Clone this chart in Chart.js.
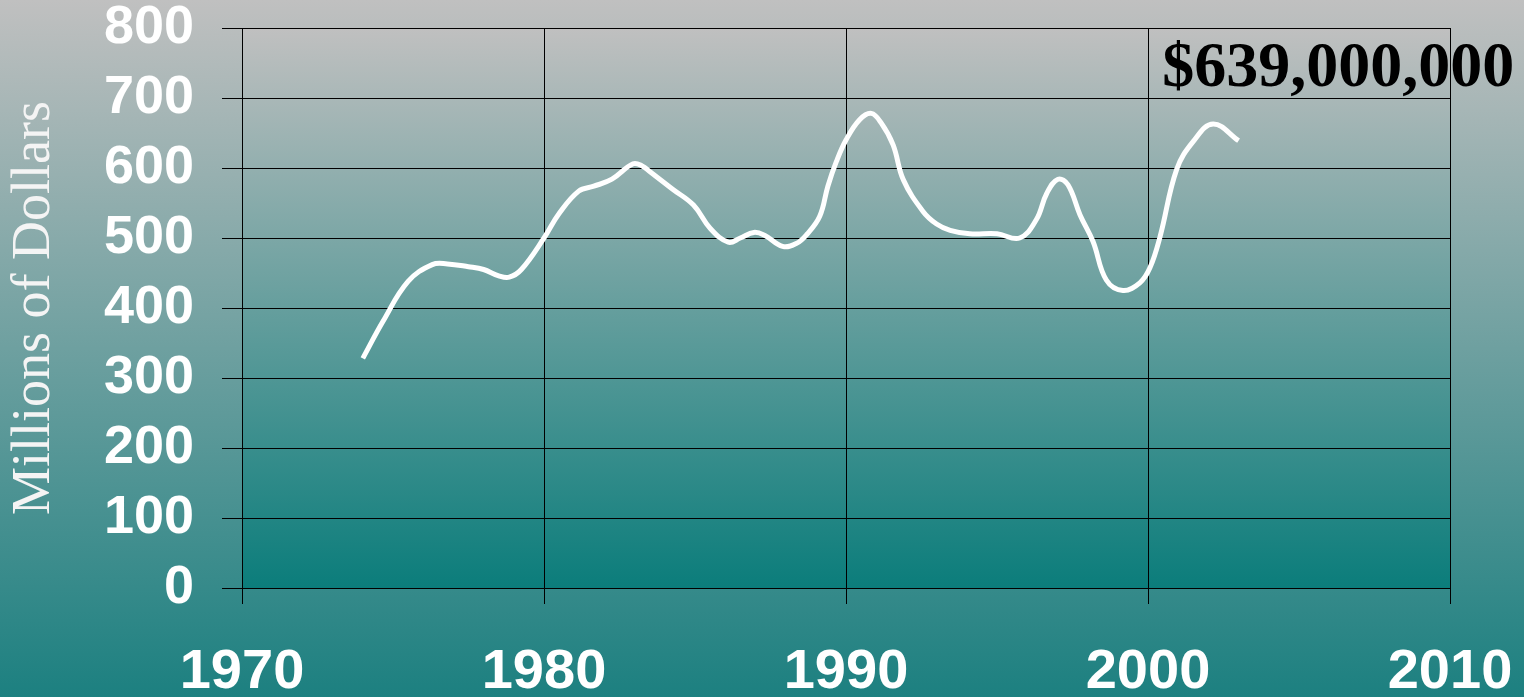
<!DOCTYPE html>
<html>
<head>
<meta charset="utf-8">
<script src="https://cdn.jsdelivr.net/npm/chart.js@4.4.1/dist/chart.umd.min.js"></script>
<style>
  html, body { margin: 0; padding: 0; }
  body {
    width: 1524px;
    height: 697px;
    background: linear-gradient(to bottom, #c0c0c0 0%, #1c8080 100%);
    overflow: hidden;
  }
  #wrap { position: relative; width: 1524px; height: 697px; }
  #fund-chart { display: block; }
</style>
</head>
<body>
<div id="wrap"><canvas id="fund-chart" width="1524" height="697"></canvas></div>
<script>
// years (fractional) and amounts in millions of dollars
const years = [
  1974.0, 1974.67, 1975.5, 1976.3, 1976.8, 1977.5, 1978.0, 1978.5, 1978.85, 1979.25,
  1980.0, 1980.5, 1981.15, 1981.65, 1982.25, 1982.95, 1983.25, 1983.5, 1984.25, 1984.95,
  1985.5, 1986.1, 1986.5, 1986.95, 1987.3, 1987.9, 1988.35, 1988.7, 1989.13, 1989.4,
  1989.68, 1990.0, 1990.45, 1990.84, 1991.17, 1991.56, 1991.9, 1992.55, 1993.0, 1993.45,
  1994.1, 1995.0, 1995.75, 1996.3, 1996.65, 1997.02, 1997.35, 1997.75, 1998.18, 1998.62,
  1999.17, 1999.73, 2000.06, 2000.4, 2000.95, 2001.5, 2002.16, 2003.0
];
const millions = [
  328, 381, 438, 462, 463, 459, 455, 446, 444, 455,
  500, 535, 567, 574, 584, 606, 603, 595, 570, 547,
  514, 494, 500, 508, 504, 488, 492, 505, 531, 574,
  609, 640, 669, 678, 664, 633, 583, 538, 520, 511,
  506, 506, 500, 526, 564, 584, 576, 533, 495, 440,
  425, 436, 457, 502, 598, 638, 663, 639
];
const xTicks = [1970, 1980, 1990, 2000, 2010];
const yTicks = [0, 100, 200, 300, 400, 500, 600, 700, 800];
const yTitle = "Millions of Dollars";
const callout = "$639,000,000";

// gradient behind the plot area
const plotBackground = {
  id: "plotBackground",
  beforeDraw(chart) {
    const { ctx, chartArea } = chart;
    const g = ctx.createLinearGradient(0, chartArea.top, 0, chartArea.bottom);
    g.addColorStop(0, "#c0c0c0");
    g.addColorStop(1, "#0b7d7b");
    ctx.save();
    ctx.fillStyle = g;
    ctx.fillRect(chartArea.left, chartArea.top, chartArea.right - chartArea.left, chartArea.bottom - chartArea.top);
    ctx.restore();
  },
};

// the big black amount label near the last point
const calloutLabel = {
  id: "calloutLabel",
  afterDatasetsDraw(chart) {
    const { ctx, scales } = chart;
    const x = scales.x.getPixelForValue(2006.3);
    const y = scales.y.getPixelForValue(717);
    ctx.save();
    ctx.font = "bold 64px 'Liberation Serif', 'Times New Roman', serif";
    ctx.fillStyle = "#000000";
    ctx.textAlign = "center";
    ctx.textBaseline = "alphabetic";
    ctx.fillText(callout, x, y);
    ctx.restore();
  },
};

const canvas = document.querySelector("#fund-chart");

new Chart(canvas.getContext("2d"), {
  type: "line",
  data: {
    datasets: [
      {
        label: yTitle,
        data: years.map((yr, i) => ({ x: yr, y: millions[i] })),
        borderColor: "#ffffff",
        borderWidth: 5,
        pointRadius: 0,
        tension: 0.4,
        fill: false,
      },
    ],
  },
  options: {
    responsive: false,
    animation: false,
    layout: { padding: { left: 0, right: 74, top: 28, bottom: 0 } },
    plugins: {
      legend: { display: false },
      tooltip: { enabled: false },
    },
    scales: {
      x: {
        type: "linear",
        min: 1970,
        max: 2010,
        afterBuildTicks: (scale) => {
          scale.ticks = xTicks.map((v) => ({ value: v }));
        },
        afterFit: (scale) => {
          scale.height = 109;
          scale.paddingLeft = 0;
          scale.paddingRight = 0;
        },
        grid: {
          color: "#000000",
          lineWidth: 1,
          drawTicks: true,
          tickLength: 16,
        },
        border: { color: "#000000", width: 1 },
        ticks: {
          color: "#ffffff",
          padding: 35,
          maxRotation: 0,
          font: { family: "'Liberation Sans', Arial, sans-serif", size: 56, weight: "bold" },
          callback: (v) => String(v),
        },
      },
      y: {
        min: 0,
        max: 800,
        afterBuildTicks: (scale) => {
          scale.ticks = yTicks.map((v) => ({ value: v }));
        },
        afterFit: (scale) => {
          scale.width = 242;
          scale.paddingTop = 0;
          scale.paddingBottom = 0;
        },
        grid: {
          color: "#000000",
          lineWidth: 1,
          drawTicks: true,
          tickLength: 20,
        },
        border: { color: "#000000", width: 1 },
        ticks: {
          color: "#ffffff",
          padding: 28,
          font: { family: "'Liberation Sans', Arial, sans-serif", size: 54, weight: "bold" },
        },
        title: {
          display: true,
          text: yTitle,
          color: "#f4f4f4",
          padding: { top: 2, bottom: 0 },
          font: { family: "'Liberation Serif', 'Times New Roman', serif", size: 54, weight: "normal" },
        },
      },
    },
  },
  plugins: [plotBackground, calloutLabel],
});
</script>
</body>
</html>
